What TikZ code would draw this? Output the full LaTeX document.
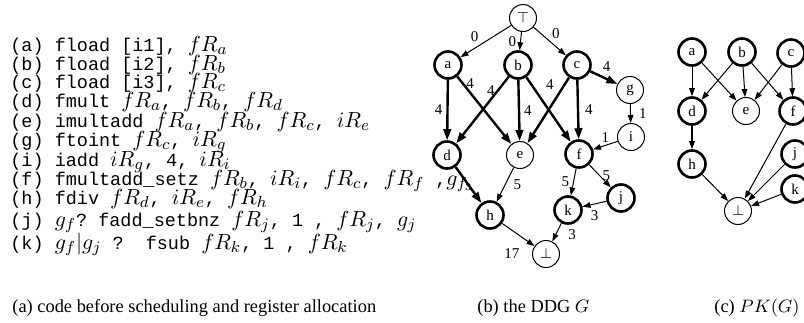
\documentclass[tikz,border=0pt]{standalone}
\usepackage{fontspec}
\setmainfont{Liberation Serif}
\setmonofont{Liberation Mono}[Scale=0.84]
\usetikzlibrary{arrows.meta}
\tikzstyle{op} = [circle, draw, line width=1.3pt, minimum size=13.5pt, inner sep=0pt, font=\fontsize{7.5}{9}\selectfont]
\tikzstyle{lightop} = [op, line width=0.5pt]
\tikzstyle{dep} = [line width=0.5pt, -{Triangle[length=4pt,width=2.8pt]}]
\tikzstyle{critdep} = [line width=1.2pt, -{Triangle[length=5.5pt,width=3.8pt]}]
\tikzstyle{lat} = [font=\fontsize{7.5}{9}\selectfont, inner sep=1pt]
\tikzstyle{codeline} = [anchor=base west, inner sep=0pt, font=\fontsize{11}{13}\selectfont\ttfamily]
\tikzstyle{subcap} = [anchor=base west, inner sep=0pt, font=\fontsize{9.2}{11}\selectfont]

\begin{document}
\begin{tikzpicture}[x=0.5pt, y=-0.5pt]
            \useasboundingbox (0,0) rectangle (804,322);
            % (a) the code
            \foreach \y/\txt [count=\n] in {
                51/{(a) fload [i1], $fR_a$},
                70/{(b) fload [i2], $fR_b$},
                88/{(c) fload [i3], $fR_c$},
                107/{(d) fmult $fR_a$, $fR_b$, $fR_d$},
                127/{(e) imultadd $fR_a$, $fR_b$, $fR_c$, $iR_e$},
                146/{(g) ftoint $fR_c$, $iR_g$},
                166/{(i) iadd $iR_g$, 4, $iR_i$},
                185/{(f) fmultadd\_setz $fR_b$, $iR_i$, $fR_c$, $fR_f$ ,$g_{f_3}$},
                204/{(h) fdiv $fR_d$, $iR_e$, $fR_h$},
                226/{(j) $g_f$? fadd\_setbnz $fR_j$, 1 , $fR_j$, $g_j$},
                249/{(k) $g_f|g_j$ ?~ fsub $fR_k$, 1 , $fR_k$}}
                \node (line\n) [codeline] at (10,\y) {\txt};
            % (b) the DDG
            \node (top) [lightop] at (523,18) {$\top$};
            \node (a) [op] at (448,65) {a};
            \node (b) [op] at (518,65) {b};
            \node (c) [op] at (577,65) {c};
            \node (g) [lightop] at (630,90) {g};
            \node (i) [lightop] at (631,137) {i};
            \node (d) [op] at (447,155) {d};
            \node (e) [lightop] at (520,155) {e};
            \node (f) [op] at (579,154) {f};
            \node (j) [op] at (621,198) {j};
            \node (k) [op] at (568,210) {k};
            \node (h) [op] at (490,215) {h};
            \node (bot) [lightop] at (546,254) {$\bot$};
            \draw [dep] (top) -- node[lat, above left, pos=0.6] {0} (a);
            \draw [dep] (top) -- node[lat, left=1pt] {0} (b);
            \draw [dep] (top) -- node[lat, above right] {0} (c);
            \draw [critdep] (a) -- node[lat, left=1pt] {4} (d);
            \draw [critdep] (a) -- node[lat, right, pos=0.11] {4} (e);
            \draw [critdep] (b) -- node[lat, left, pos=0.21] {4} (d);
            \draw [critdep] (b) -- node[lat, right=1pt] {4} (e);
            \draw [critdep] (b) -- (f);
            \draw [critdep] (c) -- node[lat, left=4pt, pos=0.1] {4} (e);
            \draw [critdep] (c) -- node[lat, right=2pt] {4} (f);
            \draw [critdep] (c) -- node[lat, above=2pt, pos=0.6] {4} (g);
            \draw [dep] (g) -- node[lat, right=3pt] {1} (i);
            \draw [dep] (i) -- node[lat, above] {1} (f);
            \draw [critdep] (d) -- (h);
            \draw [dep] (e) -- node[lat, right=3pt] {5} (h);
            \draw [dep] (f) -- node[lat, left=1pt] {5} (k);
            \draw [dep] (f) -- node[lat, right] {5} (j);
            \draw [dep] (j) -- node[lat, below=2pt] {3} (k);
            \draw [dep] (k) -- node[lat, right=5pt, pos=0.6] {3} (bot);
            \draw [dep] (h) -- node[lat, below=8pt, pos=0.3] {17} (bot);
            % (c) PK(G)
            \node (pa) [op] at (692,52) {a};
            \node (pb) [op] at (742,52) {b};
            \node (pc) [op] at (791,53) {c};
            \node (pd) [op] at (692,111) {d};
            \node (pe) [lightop] at (746,111) {e};
            \node (pf) [op] at (793,111) {f};
            \node (ph) [op] at (692,164) {h};
            \node (pj) [op] at (795,154) {j};
            \node (pk) [op] at (795,189) {k};
            \node (pbot) [lightop] at (738,211) {$\bot$};
            \draw [dep] (pa) -- (pd);
            \draw [dep] (pa) -- (pe);
            \draw [dep] (pb) -- (pd);
            \draw [dep] (pb) -- (pe);
            \draw [dep] (pb) -- (pf);
            \draw [dep] (pc) -- (pe);
            \draw [dep] (pc) -- (pf);
            \draw [dep, line width=0.8pt] (pd) -- (ph);
            \draw [dep] (ph) -- (pbot);
            \draw [dep] (pf) -- (pbot);
            \draw [dep] (pj) -- (pbot);
            \draw [dep] (pk) -- (pbot);
            % captions
            \node (capa) [subcap] at (12,312) {(a) code before scheduling and register allocation};
            \node (capb) [subcap] at (477,312) {(b) the DDG $G$};
            \node (capc) [subcap] at (714,312) {(c) $PK(G)$};
        \end{tikzpicture}
\end{document}
